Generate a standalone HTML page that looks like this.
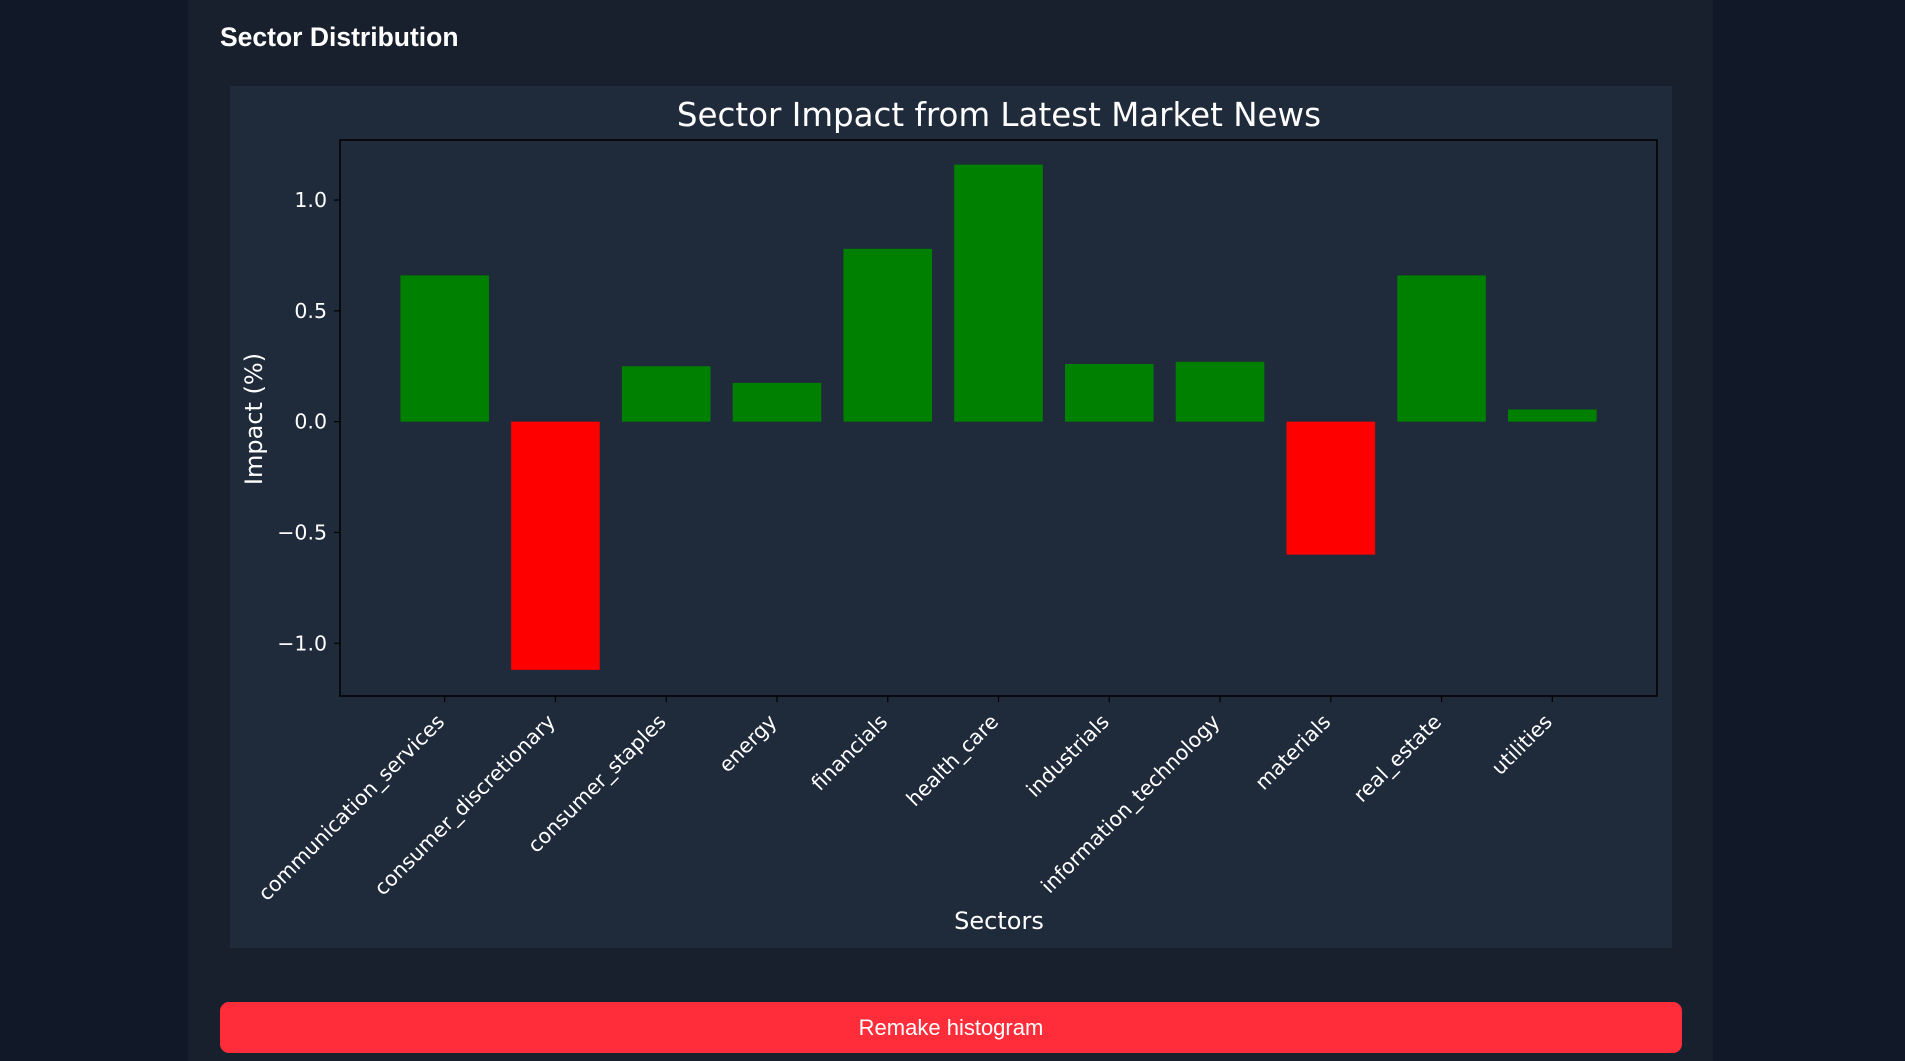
<!DOCTYPE html>
<html><head><meta charset="utf-8"><style>
html,body{margin:0;padding:0;width:1905px;height:1061px;overflow:hidden;background:#111827;font-family:"Liberation Sans",sans-serif;}
#panel{position:absolute;left:188px;top:0;width:1525px;height:1061px;background:#18202e;}
#heading{position:absolute;left:220px;top:22px;color:#fff;font-weight:bold;font-size:26.5px;}
#btn{position:absolute;left:220px;top:1002px;width:1462px;height:51px;background:#ff2d3a;border-radius:9px;color:#fff;font-size:22px;display:flex;align-items:center;justify-content:center;border:none;font-family:"Liberation Sans",sans-serif;}
svg{position:absolute;left:0;top:0;}
</style></head><body>
<div id="panel"></div>
<div id="heading">Sector Distribution</div>
<svg id="chart" width="1905" height="1061"></svg>
<button id="btn">Remake histogram</button>
<script>
const categories=["communication_services","consumer_discretionary","consumer_staples","energy","financials","health_care","industrials","information_technology","materials","real_estate","utilities"];
const values=[0.66,-1.12,0.25,0.175,0.78,1.16,0.26,0.27,-0.60,0.66,0.055];
const yTicks=[-1.0,-0.5,0.0,0.5,1.0];
const yTickLabels=["\u22121.0","\u22120.5","0.0","0.5","1.0"];

const NS="http://www.w3.org/2000/svg";
const svg=document.getElementById('chart');
const L=340,R=1657,T=140,B=696;
const xmin=-0.945,xmax=categories.length-0.055,ymin=-1.238,ymax=1.271;
const xs=v=>L+(v-xmin)/(xmax-xmin)*(R-L);
const ys=v=>B-(v-ymin)/(ymax-ymin)*(B-T);
function mk(tag,attrs,parent){const e=document.createElementNS(NS,tag);for(const k in attrs)e.setAttribute(k,attrs[k]);(parent||svg).appendChild(e);return e;}

const bg=mk('rect',{x:230,y:86,width:1442,height:862,fill:'#1f2a3a'});



const title=mk('text',{x:999,y:126,'text-anchor':'middle',fill:'#fff','font-size':32.5,'font-family':'DejaVu Sans, sans-serif'});
title.textContent='Sector Impact from Latest Market News';



const bw=(xs(1)-xs(0))*0.8;
categories.forEach((c,i)=>{
  const v=values[i];
  const y0=ys(0),y1=ys(v);
  const r=mk('rect',{x:xs(i)-bw/2,y:Math.min(y0,y1),width:bw,height:Math.abs(y1-y0),fill:v>=0?'#008000':'#ff0000'});
  
  
  const tk=mk('line',{x1:xs(i),x2:xs(i),y1:B,y2:B+6,stroke:'#000','stroke-width':1.2});
  
  
  const tx=xs(i)+1,ty=B+27;
  const t=mk('text',{x:tx,y:ty,'text-anchor':'end',fill:'#fff','font-size':20.5,'font-family':'DejaVu Sans, sans-serif',transform:`rotate(-45 ${tx} ${ty})`});
  t.textContent=c;
  
  
});
yTicks.forEach((v,i)=>{
  const y=ys(v);
  const tk=mk('line',{x1:L-6,x2:L,y1:y,y2:y,stroke:'#000','stroke-width':1.2});
  
  
  const t=mk('text',{x:L-13,y:y+7,'text-anchor':'end',fill:'#fff','font-size':20.5,'font-family':'DejaVu Sans, sans-serif'});
  t.textContent=yTickLabels[i];
  
  
});
const frame=mk('rect',{x:L,y:T,width:R-L,height:B-T,fill:'none',stroke:'#000','stroke-width':1.5});



const yl=mk('text',{x:262,y:419,'text-anchor':'middle',fill:'#fff','font-size':24,'font-family':'DejaVu Sans, sans-serif',transform:'rotate(-90 262 419)'});
yl.textContent='Impact (%)';


const xl=mk('text',{x:999,y:929,'text-anchor':'middle',fill:'#fff','font-size':24,'font-family':'DejaVu Sans, sans-serif'});
xl.textContent='Sectors';


</script>
</body></html>
